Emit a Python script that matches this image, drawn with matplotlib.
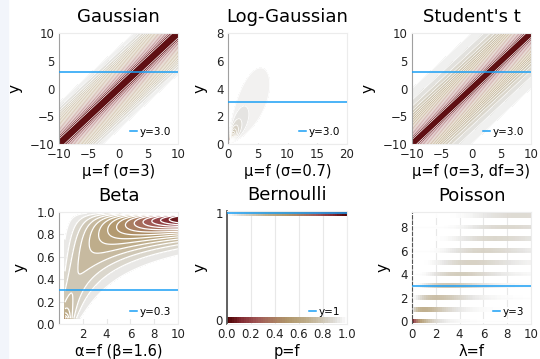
import math
import numpy as np
import matplotlib
matplotlib.use("Agg")
import matplotlib.pyplot as plt
from matplotlib.colors import LinearSegmentedColormap
from matplotlib.patches import Rectangle

# Paramètres des vraisemblances
titles = ["Gaussian", "Log-Gaussian", "Student's t", "Beta", "Bernoulli", "Poisson"]
xlabels = ["μ=f (σ=3)", "μ=f (σ=0.7)", "μ=f (σ=3, df=3)", "α=f (β=1.6)", "p=f", "λ=f"]
y_obs = [3.0, 3.0, 3.0, 0.3, 1, 3]
y_obs_labels = ["y=3.0", "y=3.0", "y=3.0", "y=0.3", "y=1", "y=3"]
gauss_sigma = 3.0
lognormal_sigma = 0.7
student_sigma = 3.0
student_df = 3.0
beta_b = 1.6
bernoulli_outcomes = [0, 1]
poisson_counts = [0, 1, 2, 3, 4, 5, 6, 7, 8, 9]

xticks = [[-10, -5, 0, 5, 10], [0, 5, 10, 15, 20], [-10, -5, 0, 5, 10],
          [2, 4, 6, 8, 10], [0.0, 0.2, 0.4, 0.6, 0.8, 1.0], [0, 2, 4, 6, 8, 10]]
yticks = [[-10, -5, 0, 5, 10], [0, 2, 4, 6, 8], [-10, -5, 0, 5, 10],
          [0.0, 0.2, 0.4, 0.6, 0.8, 1.0], [0, 1], [0, 2, 4, 6, 8]]
xlims = [(-10, 10), (0, 20), (-10, 10), (0, 10), (0, 1), (0, 10)]
ylims = [(-10, 10), (0, 8), (-10, 10), (0, 1), (-0.037, 1.019), (-0.255, 9.28)]

# colormap proche de "bilbao"
cmap = LinearSegmentedColormap.from_list("bilbao", [
    (0.00, "#ffffff"), (0.08, "#e4e3e1"), (0.20, "#cfc7b5"), (0.35, "#bcaa86"),
    (0.50, "#b0956a"), (0.62, "#a97a60"), (0.75, "#a05655"), (0.88, "#822b32"),
    (1.00, "#4c0001")])

W, H = 540, 359
fig = plt.figure(figsize=(W / 100, H / 100), dpi=100)
fig.patches.append(Rectangle((0, 0), 8 / W, 1, transform=fig.transFigure,
                             color="#f2f5fb", zorder=-1))

# boîtes des axes en pixels : (gauche, droite, haut, bas)
boxes = [(59, 178, 33, 144), (228, 347, 33, 144), (412, 531, 33, 144),
         (59, 178, 212, 324), (227, 347, 211, 324), (412, 531, 212, 324)]
ylabel_x = [15, 200, 368, 20, 200, 383]


def lbeta(a, b):
    return np.vectorize(lambda u, v: math.lgamma(u) + math.lgamma(v) - math.lgamma(u + v))(a, b)


def contour_panel(ax, x, y, Z, nlev=25, lw=0.5):
    # chaque bande prend la couleur de son niveau bas : la première est blanche
    zmax = Z.max()
    lv = np.linspace(0, zmax, nlev + 1)
    lv[-1] = zmax * 1.0001
    band_colors = [cmap(v / zmax) for v in lv[:-1]]
    ax.contourf(x, y, Z, levels=lv, colors=band_colors, zorder=1)
    ax.contour(x, y, Z, levels=lv[1:-1], colors="white", linewidths=lw, zorder=2)


axes = []
for i in range(6):
    l, r, t, b = boxes[i]
    ax = fig.add_axes([l / W, 1 - b / H, (r - l) / W, (b - t) / H])
    axes.append(ax)

# Gaussian
f = np.linspace(-10, 10, 120)
yy = np.linspace(-10, 10, 120)
F, Y = np.meshgrid(f, yy)
Z = np.exp(-(Y - F) ** 2 / (2 * gauss_sigma ** 2)) / (gauss_sigma * np.sqrt(2 * np.pi))
contour_panel(axes[0], f, yy, Z, nlev=22, lw=0.5)

# Log-Gaussian
f = np.linspace(0.28, 20, 120)
yy = np.linspace(0.1, 8, 120)
F, Y = np.meshgrid(f, yy)
Z = np.exp(-(np.log(Y) - np.log(F)) ** 2 / (2 * lognormal_sigma ** 2)) / (Y * lognormal_sigma * np.sqrt(2 * np.pi))
contour_panel(axes[1], f, yy, Z, nlev=25, lw=0.6)

# Student's t
f = np.linspace(-10, 10, 120)
yy = np.linspace(-10, 10, 120)
F, Y = np.meshgrid(f, yy)
nu = student_df
c = math.exp(math.lgamma((nu + 1) / 2) - math.lgamma(nu / 2)) / (math.sqrt(nu * math.pi) * student_sigma)
Z = c * (1 + ((Y - F) / student_sigma) ** 2 / nu) ** (-(nu + 1) / 2)
contour_panel(axes[2], f, yy, Z, nlev=22, lw=0.5)

# Beta
a = np.linspace(0.5, 10, 120)
yy = np.linspace(0.05, 0.99, 120)
A, Y = np.meshgrid(a, yy)
Z = np.exp((A - 1) * np.log(Y) + (beta_b - 1) * np.log(1 - Y) - lbeta(A, beta_b))
contour_panel(axes[3], a, yy, Z, nlev=15, lw=0.9)

# Bernoulli
p_edges = np.linspace(0, 1, 51)
p_mid = (p_edges[:-1] + p_edges[1:]) / 2
for k in bernoulli_outcomes:
    prob = p_mid if k == 1 else 1 - p_mid
    axes[4].pcolormesh(p_edges, [k - 0.025, k + 0.025], prob[None, :], cmap=cmap,
                       vmin=0, vmax=1, zorder=1)

# Poisson
lam_edges = np.linspace(0, 10, 61)
lam_mid = (lam_edges[:-1] + lam_edges[1:]) / 2
for k in poisson_counts:
    pmf = np.exp(k * np.log(lam_mid) - lam_mid - math.lgamma(k + 1))
    axes[5].pcolormesh(lam_edges, [k - 0.2, k + 0.2], pmf[None, :], cmap=cmap,
                       vmin=0, vmax=1, zorder=1, alpha=0.9)

for i, ax in enumerate(axes):
    ax.axhline(y_obs[i], color="#1a9ff5", lw=1.1, label=y_obs_labels[i], zorder=3)
    ax.set_xlim(*xlims[i])
    ax.set_ylim(*ylims[i])
    ax.set_xticks(xticks[i])
    ax.set_yticks(yticks[i])
    if i == 3:
        ax.set_yticklabels([f"{v:.1f}" for v in yticks[i]])
    if i == 4:
        ax.set_xticklabels([f"{v:.1f}" for v in xticks[i]])
    ax.tick_params(length=0, labelsize=8.5, pad=3, colors="#222222")
    ax.grid(True, color="#e8e8e8", lw=0.8)
    ax.set_axisbelow(True)
    for s in ["top", "right", "bottom"]:
        ax.spines[s].set_color("#ececec")
        ax.spines[s].set_linewidth(0.8)
    ax.spines["left"].set_color("#a0a0a0")
    ax.spines["left"].set_linewidth(0.8)
    ax.set_title(titles[i], fontsize=13, pad=8)
    ax.set_xlabel(xlabels[i], fontsize=10.5, labelpad=2)
    ax.set_ylabel("y", fontsize=11, va="center")
    l, r, t, b = boxes[i]
    ax.yaxis.set_label_coords((ylabel_x[i] - l) / (r - l), 0.5)
    ax.legend(loc="lower right", frameon=False, fontsize=7.5, handlelength=0.7,
              handletextpad=0.2, borderaxespad=0.3)

axes[4].spines["left"].set_color("#555555")
axes[4].spines["left"].set_linewidth(1.3)
axes[5].spines["left"].set_color("#555555")
axes[5].spines["left"].set_linestyle((0, (3, 2)))

fig.savefig("out.png", dpi=100)
